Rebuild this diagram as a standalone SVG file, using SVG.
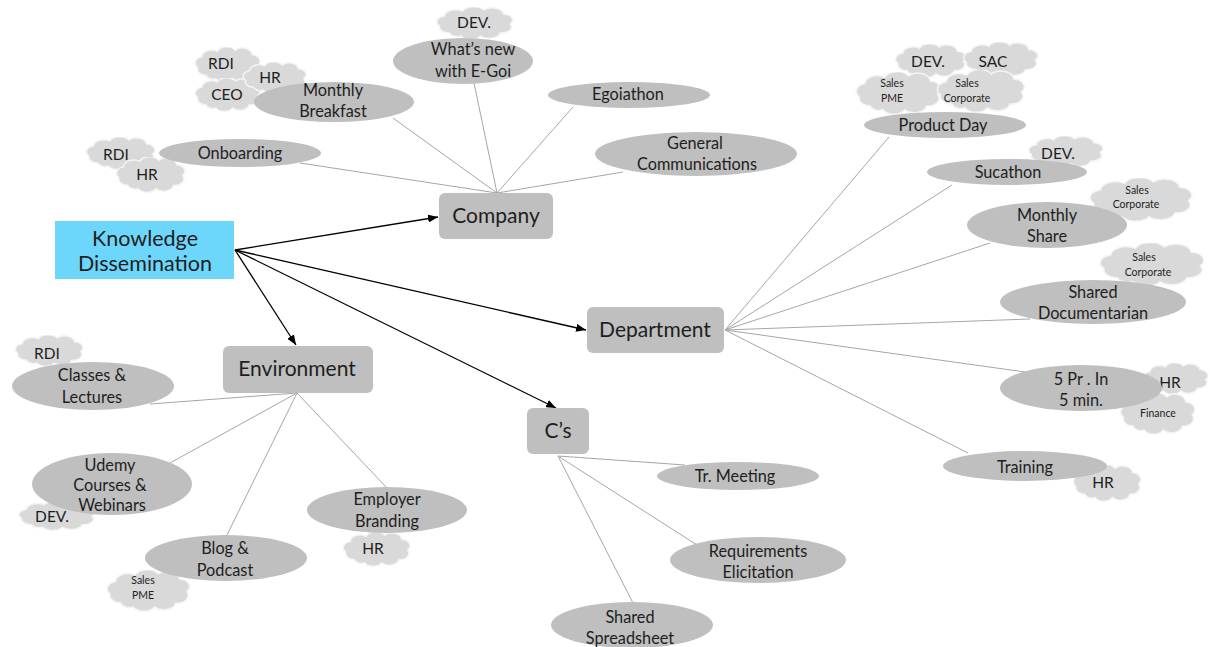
<svg xmlns="http://www.w3.org/2000/svg" xmlns:xlink="http://www.w3.org/1999/xlink" width="1210" height="647" viewBox="0 0 1210 647">
  <style>
    text { font-family: Lato, "Open Sans", "Liberation Sans", sans-serif; fill: #1e1e1e; text-anchor: middle; }
    .t16 { font-size: 16.3px; }
    .t15 { font-size: 15.5px; }
    .tsm { font-size: 10.5px; }
    .tbox { font-size: 21px; }
    .troot { font-size: 21.5px; }
    .leaf { fill: #bfbfbf; }
    .box { fill: #bfbfbf; }
    .root { fill: #6dd6fb; }
    .link { stroke: #a6a6a6; stroke-width: 1; fill: none; }
    .main { stroke: #000; stroke-width: 1.3; fill: none; marker-end: url(#arrow); }
  </style>
  <defs>
    <marker id="arrow" markerUnits="userSpaceOnUse" markerWidth="10" markerHeight="8" refX="10" refY="4" orient="auto">
      <path d="M0,0 L10,4 L0,8 Z" fill="#000"/>
    </marker>
    <symbol id="cloud" viewBox="0 0 100 66" preserveAspectRatio="none">
      <path d="M20 52 A12 12 0 0 1 8 38 A12 12 0 0 1 14 18 A14 14 0 0 1 36 8 A15 15 0 0 1 62 6 A14 14 0 0 1 86 14 A12 12 0 0 1 94 34 A12 12 0 0 1 82 52 A14 14 0 0 1 58 58 A14 14 0 0 1 34 58 A10 10 0 0 1 20 52 Z" fill="#d9d9d9" stroke="#f4f4f4" stroke-width="1.5" vector-effect="non-scaling-stroke"/>
    </symbol>
  </defs>
  <rect width="1210" height="647" fill="#fff"/>

  <!-- tag clouds attached to activities -->
  <g id="clouds">
    <g id="cloud-whatsnew-dev"><use href="#cloud" x="433" y="7" width="82" height="33"/><text class="t15" x="474" y="28">DEV.</text></g>
    <g id="cloud-breakfast-rdi"><use href="#cloud" x="192" y="47" width="70" height="36"/><text class="t15" x="221" y="69">RDI</text></g>
    <g id="cloud-breakfast-ceo"><use href="#cloud" x="192" y="78" width="70" height="34"/><text class="t15" x="227" y="100">CEO</text></g>
    <g id="cloud-breakfast-hr"><use href="#cloud" x="240" y="62" width="68" height="32"/><text class="t15" x="270" y="83">HR</text></g>
    <g id="cloud-onboarding-rdi"><use href="#cloud" x="83" y="137" width="74" height="33"/><text class="t15" x="116" y="160">RDI</text></g>
    <g id="cloud-onboarding-hr"><use href="#cloud" x="113" y="157" width="74" height="36"/><text class="t15" x="147" y="180">HR</text></g>

    <g id="cloud-pd-dev"><use href="#cloud" x="892" y="44" width="76" height="34"/><text class="t15" x="928" y="67">DEV.</text></g>
    <g id="cloud-pd-sac"><use href="#cloud" x="960" y="42" width="80" height="35"/><text class="t15" x="993" y="67">SAC</text></g>
    <g id="cloud-pd-pme"><use href="#cloud" x="852" y="72" width="91" height="43"/><text class="tsm" x="892" y="87">Sales</text><text class="tsm" x="892" y="102">PME</text></g>
    <g id="cloud-pd-corp"><use href="#cloud" x="933" y="70" width="94" height="43"/><text class="tsm" x="967" y="87">Sales</text><text class="tsm" x="967" y="102">Corporate</text></g>
    <g id="cloud-sucathon-dev"><use href="#cloud" x="1025" y="136" width="80" height="32"/><text class="t15" x="1058" y="159">DEV.</text></g>
    <g id="cloud-share-corp"><use href="#cloud" x="1085" y="178" width="110" height="44"/><text class="tsm" x="1137" y="194">Sales</text><text class="tsm" x="1136" y="208">Corporate</text></g>
    <g id="cloud-doc-corp"><use href="#cloud" x="1095" y="243" width="112" height="44"/><text class="tsm" x="1144" y="261">Sales</text><text class="tsm" x="1148" y="276">Corporate</text></g>
    <g id="cloud-5pr-hr"><use href="#cloud" x="1140" y="363" width="70" height="32"/><text class="t15" x="1170" y="388">HR</text></g>
    <g id="cloud-5pr-finance"><use href="#cloud" x="1117" y="393" width="80" height="42"/><text class="tsm" x="1158" y="417">Finance</text></g>
    <g id="cloud-training-hr"><use href="#cloud" x="1070" y="465" width="73" height="37"/><text class="t15" x="1103" y="488">HR</text></g>

    <g id="cloud-classes-rdi"><use href="#cloud" x="12" y="335" width="73" height="32"/><text class="t15" x="47" y="359">RDI</text></g>
    <g id="cloud-udemy-dev"><use href="#cloud" x="15" y="501" width="82" height="30"/><text class="t15" x="52" y="522">DEV.</text></g>
    <g id="cloud-blog-pme"><use href="#cloud" x="103" y="570" width="89" height="42"/><text class="tsm" x="143" y="584">Sales</text><text class="tsm" x="143" y="599">PME</text></g>
    <g id="cloud-branding-hr"><use href="#cloud" x="340" y="532" width="72" height="35"/><text class="t15" x="373" y="554">HR</text></g>
  </g>

  <!-- connectors -->
  <g id="connectors">
    <line class="main" x1="235" y1="250" x2="438" y2="217"/>
    <line class="main" x1="235" y1="250" x2="586" y2="330"/>
    <line class="main" x1="235" y1="250" x2="296" y2="345"/>
    <line class="main" x1="235" y1="250" x2="556" y2="408"/>

    <line class="link" x1="497" y1="193" x2="300" y2="163"/>
    <line class="link" x1="497" y1="193" x2="393" y2="118"/>
    <line class="link" x1="497" y1="193" x2="474" y2="83"/>
    <line class="link" x1="497" y1="193" x2="573" y2="107"/>
    <line class="link" x1="497" y1="193" x2="623" y2="172"/>

    <line class="link" x1="725" y1="330" x2="889" y2="137"/>
    <line class="link" x1="725" y1="330" x2="952" y2="185"/>
    <line class="link" x1="725" y1="330" x2="990" y2="243"/>
    <line class="link" x1="725" y1="330" x2="1030" y2="319"/>
    <line class="link" x1="725" y1="330" x2="1025" y2="372"/>
    <line class="link" x1="725" y1="330" x2="968" y2="453"/>

    <line class="link" x1="297" y1="393" x2="150" y2="404"/>
    <line class="link" x1="297" y1="393" x2="170" y2="463"/>
    <line class="link" x1="297" y1="393" x2="227" y2="535"/>
    <line class="link" x1="297" y1="393" x2="387" y2="488"/>

    <line class="link" x1="558" y1="456" x2="685" y2="465"/>
    <line class="link" x1="558" y1="456" x2="697" y2="545"/>
    <line class="link" x1="558" y1="456" x2="633" y2="603"/>
  </g>

  <!-- root -->
  <g id="knowledge-dissemination">
    <rect class="root" x="55" y="221" width="179" height="58"/>
    <text class="troot" x="145" y="246">Knowledge</text>
    <text class="troot" x="145" y="271">Dissemination</text>
  </g>

  <!-- category boxes -->
  <g id="company"><rect class="box" x="439" y="193" width="114" height="46" rx="6"/><text class="tbox" x="496" y="223">Company</text></g>
  <g id="department"><rect class="box" x="587" y="307" width="137" height="46" rx="6"/><text class="tbox" x="655" y="337">Department</text></g>
  <g id="environment"><rect class="box" x="223" y="346" width="150" height="47" rx="6"/><text class="tbox" x="297" y="376">Environment</text></g>
  <g id="cs"><rect class="box" x="527" y="408" width="62" height="46" rx="6"/><text class="tbox" x="558" y="438">C’s</text></g>

  <!-- company activities -->
  <g id="onboarding"><ellipse class="leaf" cx="240" cy="153" rx="81" ry="14"/><text class="t16" x="240" y="159">Onboarding</text></g>
  <g id="monthly-breakfast"><ellipse class="leaf" cx="334" cy="102" rx="80" ry="20"/><text class="t16" x="333" y="96">Monthly</text><text class="t16" x="333" y="117">Breakfast</text></g>
  <g id="whats-new"><ellipse class="leaf" cx="463" cy="61" rx="70" ry="23"/><text class="t16" x="473" y="55">What’s new</text><text class="t16" x="473" y="77">with E-Goi</text></g>
  <g id="egoiathon"><ellipse class="leaf" cx="629" cy="95" rx="81" ry="13"/><text class="t16" x="628" y="100">Egoiathon</text></g>
  <g id="general-communications"><ellipse class="leaf" cx="696" cy="154" rx="101" ry="22"/><text class="t16" x="695" y="149">General</text><text class="t16" x="697" y="170">Communications</text></g>

  <!-- department activities -->
  <g id="product-day"><ellipse class="leaf" cx="945" cy="125" rx="81" ry="13"/><text class="t16" x="943" y="131">Product Day</text></g>
  <g id="sucathon"><ellipse class="leaf" cx="1007" cy="172" rx="80" ry="13"/><text class="t16" x="1008" y="178">Sucathon</text></g>
  <g id="monthly-share"><ellipse class="leaf" cx="1047" cy="225" rx="80" ry="23"/><text class="t16" x="1047" y="221">Monthly</text><text class="t16" x="1047" y="242">Share</text></g>
  <g id="shared-documentarian"><ellipse class="leaf" cx="1093" cy="302" rx="93" ry="22"/><text class="t16" x="1093" y="298">Shared</text><text class="t16" x="1093" y="319">Documentarian</text></g>
  <g id="five-pr"><ellipse class="leaf" cx="1081" cy="388" rx="81" ry="23"/><text class="t16" x="1081" y="385">5 Pr . In</text><text class="t16" x="1081" y="406">5 min.</text></g>
  <g id="training"><ellipse class="leaf" cx="1025" cy="466" rx="82" ry="15"/><text class="t16" x="1025" y="473">Training</text></g>

  <!-- environment activities -->
  <g id="classes-lectures"><ellipse class="leaf" cx="93" cy="386" rx="81" ry="24"/><text class="t16" x="92" y="381">Classes &amp;</text><text class="t16" x="92" y="403">Lectures</text></g>
  <g id="udemy"><ellipse class="leaf" cx="112" cy="484" rx="80" ry="31"/><text class="t16" x="110" y="471">Udemy</text><text class="t16" x="110" y="491">Courses &amp;</text><text class="t16" x="112" y="511">Webinars</text></g>
  <g id="blog-podcast"><ellipse class="leaf" cx="226" cy="558" rx="81" ry="23"/><text class="t16" x="225" y="554">Blog &amp;</text><text class="t16" x="225" y="576">Podcast</text></g>
  <g id="employer-branding"><ellipse class="leaf" cx="387" cy="510" rx="80" ry="23"/><text class="t16" x="387" y="505">Employer</text><text class="t16" x="387" y="527">Branding</text></g>

  <!-- C's activities -->
  <g id="tr-meeting"><ellipse class="leaf" cx="738" cy="476" rx="81" ry="14"/><text class="t16" x="735" y="482">Tr. Meeting</text></g>
  <g id="requirements-elicitation"><ellipse class="leaf" cx="758" cy="560" rx="88" ry="23"/><text class="t16" x="758" y="557">Requirements</text><text class="t16" x="758" y="578">Elicitation</text></g>
  <g id="shared-spreadsheet"><ellipse class="leaf" cx="632" cy="625" rx="81" ry="23"/><text class="t16" x="630" y="623">Shared</text><text class="t16" x="630" y="644">Spreadsheet</text></g>
</svg>
